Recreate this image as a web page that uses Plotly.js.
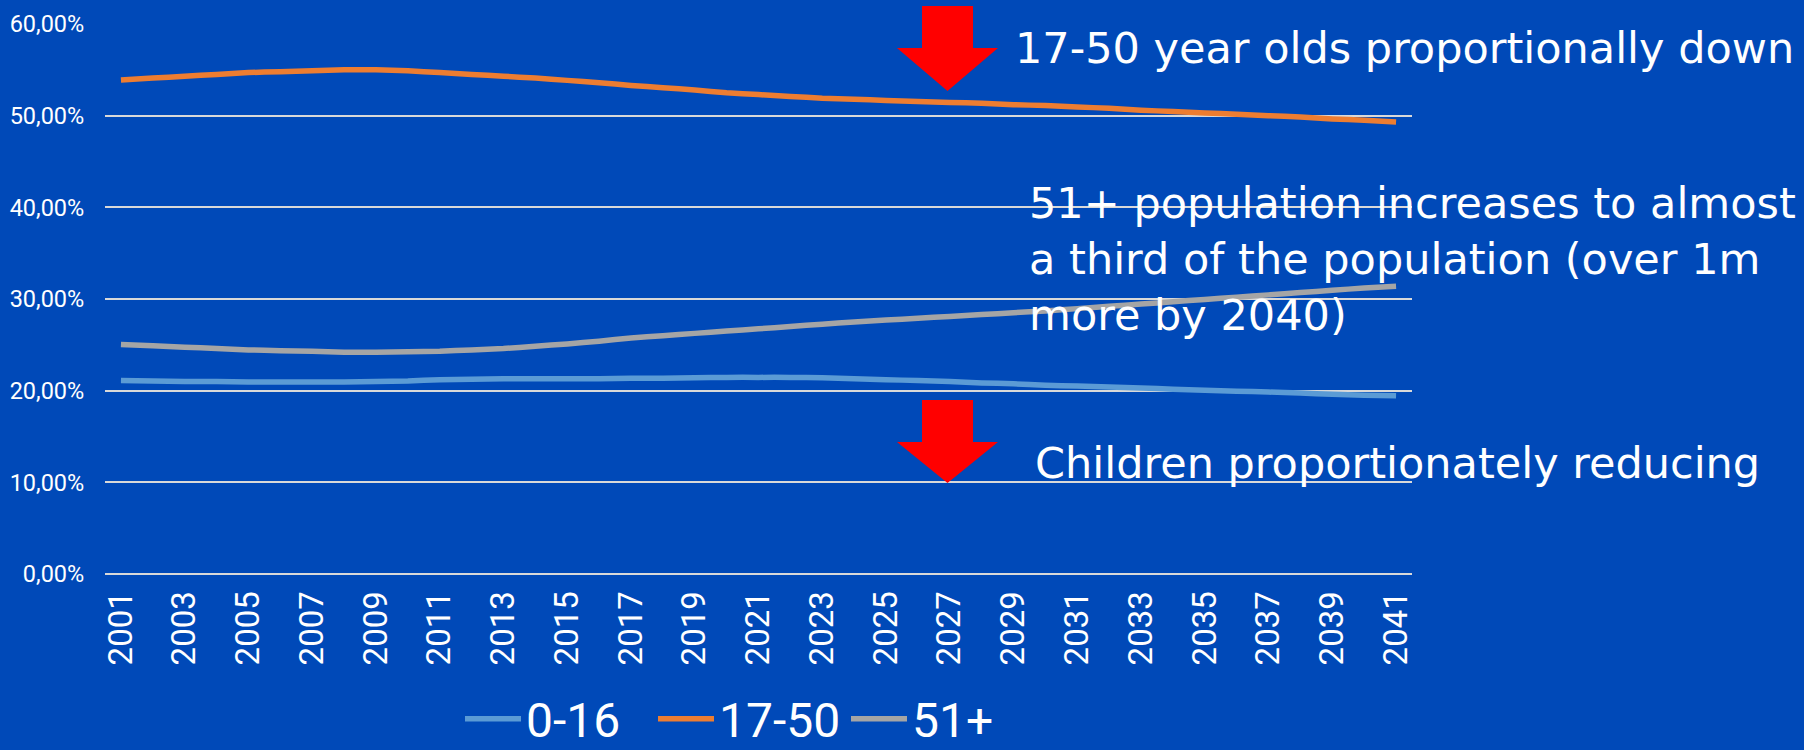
<!DOCTYPE html>
<html>
<head>
<meta charset="utf-8">
<script src="https://cdn.plot.ly/plotly-3.0.1.min.js"></script>
<style>
  html, body { margin: 0; padding: 0; background: #0049B8; }
  #chart { width: 1804px; height: 750px; }
</style>
</head>
<body>
<div id="chart"></div>
<script>
// Population share by age band, 2001-2041 (percent of total)
const years = [
  '2001','2002','2003','2004','2005','2006','2007','2008','2009','2010',
  '2011','2012','2013','2014','2015','2016','2017','2018','2019','2020',
  '2021','2022','2023','2024','2025','2026','2027','2028','2029','2030',
  '2031','2032','2033','2034','2035','2036','2037','2038','2039','2040','2041'
];

const age0to16 = [
  21.1, 21.05, 21.0, 21.0, 20.95, 20.95, 20.95, 20.95, 21.0, 21.05,
  21.2, 21.25, 21.3, 21.3, 21.3, 21.3, 21.35, 21.35, 21.4, 21.45,
  21.45, 21.45, 21.4, 21.3, 21.2, 21.1, 21.0, 20.85, 20.75, 20.6,
  20.5, 20.4, 20.3, 20.15, 20.05, 19.95, 19.85, 19.75, 19.6, 19.5, 19.45
];

const age17to50 = [
  53.9, 54.1, 54.3, 54.5, 54.7, 54.8, 54.9, 55.0, 55.0, 54.9,
  54.7, 54.5, 54.3, 54.1, 53.85, 53.6, 53.3, 53.05, 52.8, 52.5,
  52.3, 52.1, 51.9, 51.8, 51.65, 51.55, 51.45, 51.35, 51.2, 51.1,
  50.95, 50.8, 50.6, 50.45, 50.3, 50.15, 50.0, 49.85, 49.65, 49.5, 49.3
];

const age51plus = [
  25.05, 24.9, 24.75, 24.6, 24.45, 24.35, 24.3, 24.2, 24.2, 24.25,
  24.3, 24.45, 24.6, 24.85, 25.1, 25.4, 25.75, 26.0, 26.25, 26.5,
  26.75, 27.0, 27.25, 27.5, 27.7, 27.9, 28.1, 28.3, 28.5, 28.7,
  28.95, 29.2, 29.45, 29.7, 29.95, 30.2, 30.45, 30.7, 30.95, 31.2, 31.4
];

const seriesNames = ['0-16', '17-50', '51+'];

// Every other year is labelled on the horizontal axis
const yearTicks = years.filter((y, i) => i % 2 === 0);

const yTicks = [0, 10, 20, 30, 40, 50, 60];
const yTickText = ['0,00%', '10,00%', '20,00%', '30,00%', '40,00%', '50,00%', '60,00%'];

const notes = [
  '17-50 year olds proportionally down',
  '51+ population increases to almost<br>a third of the population (over 1m<br>more by 2040)',
  'Children proportionately reducing'
];

// ---- layout geometry (pixels) ----
const W = 1804, H = 750;
const M = { l: 105, r: 392, t: 24, b: 176 };
const plotW = W - M.l - M.r, plotH = H - M.t - M.b;
const px = x => (x - M.l) / plotW;          // pixel x -> paper x
const py = y => (H - M.b - y) / plotH;      // pixel y -> paper y

const BG = '#0049B8';
const GRID = '#D9D9D9';

function lineTrace(name, ys, color) {
  return {
    type: 'scatter', mode: 'lines', name: name,
    x: years, y: ys,
    line: { color: color, width: 5.5, shape: 'spline', smoothing: 0.6 },
    hoverinfo: 'skip'
  };
}

const data = [
  lineTrace(seriesNames[0], age0to16, '#5B9BD5'),
  lineTrace(seriesNames[1], age17to50, '#ED7D31'),
  lineTrace(seriesNames[2], age51plus, '#A5A5A5')
];

// Down arrow drawn as a filled path, tip at (cx, tipY)
function downArrow(cx, topY, neckY, tipY) {
  const shaftHalf = 25.5, headHalf = 50.5;
  const p = [
    [cx - shaftHalf, topY], [cx + shaftHalf, topY], [cx + shaftHalf, neckY],
    [cx + headHalf, neckY], [cx, tipY], [cx - headHalf, neckY],
    [cx - shaftHalf, neckY]
  ];
  const d = 'M' + p.map(q => px(q[0]).toFixed(5) + ',' + py(q[1]).toFixed(5)).join(' L') + ' Z';
  return {
    type: 'path', xref: 'paper', yref: 'paper', path: d,
    fillcolor: '#FF0000', line: { width: 0 }, layer: 'above'
  };
}

const noteFont = { family: 'DejaVu Sans, sans-serif', size: 43, color: '#FFFFFF' };

const layout = {
  width: W, height: H,
  paper_bgcolor: BG, plot_bgcolor: BG,
  margin: { l: M.l, r: M.r, t: M.t, b: M.b, autoexpand: false },
  showlegend: true,
  legend: {
    orientation: 'h', x: px(460), xanchor: 'left', y: py(719), yanchor: 'middle',
    font: { family: 'Roboto, sans-serif', size: 48, color: '#FFFFFF' },
    bgcolor: 'rgba(0,0,0,0)', itemwidth: 56, entrywidth: 122, entrywidthmode: 'pixels',
    itemclick: false, itemdoubleclick: false
  },
  xaxis: {
    type: 'category', categoryorder: 'array', categoryarray: years,
    range: [-0.5, years.length - 0.5],
    tickmode: 'array', tickvals: yearTicks, ticktext: yearTicks,
    tickangle: -90,
    tickfont: { family: 'Roboto, sans-serif', size: 33, color: '#FFFFFF' },
    ticks: 'outside', ticklen: 3, tickcolor: 'rgba(0,0,0,0)',
    showgrid: false, zeroline: false, showline: false, fixedrange: true
  },
  yaxis: {
    range: [0, 60],
    tickmode: 'array', tickvals: yTicks, ticktext: yTickText,
    tickfont: { family: 'Roboto, sans-serif', size: 23.5, color: '#FFFFFF' },
    ticks: 'outside', ticklen: 15, tickcolor: 'rgba(0,0,0,0)',
    showgrid: true, gridcolor: GRID, gridwidth: 2,
    zeroline: true, zerolinecolor: GRID, zerolinewidth: 2,
    showline: false, fixedrange: true
  },
  shapes: [
    downArrow(947.5, 6, 48, 91),
    downArrow(947.5, 400, 442, 483)
  ],
  annotations: [
    { text: notes[0], xref: 'paper', yref: 'paper', x: px(1013), y: py(48),
      xanchor: 'left', yanchor: 'middle', showarrow: false, align: 'left', font: noteFont },
    { text: notes[1], xref: 'paper', yref: 'paper', x: px(1027), y: py(259),
      xanchor: 'left', yanchor: 'middle', showarrow: false, align: 'left', font: noteFont },
    { text: notes[2], xref: 'paper', yref: 'paper', x: px(1033), y: py(463),
      xanchor: 'left', yanchor: 'middle', showarrow: false, align: 'left', font: noteFont }
  ]
};

Plotly.newPlot('chart', data, layout, { displayModeBar: false, staticPlot: true });
</script>
</body>
</html>
